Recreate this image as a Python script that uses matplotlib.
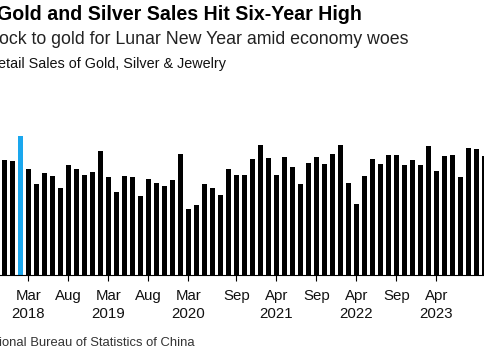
import matplotlib
matplotlib.use("Agg")
import matplotlib.pyplot as plt

plt.rcParams['font.family'] = ['Liberation Sans', 'DejaVu Sans']

# Bar heights (relative units), one per monthly period
values = [115, 114, 139, 106.3, 91, 101.7, 99, 87.3, 109.7, 106,
          100, 103, 124, 98, 83.3, 99, 98, 79, 95.7, 92,
          89.3, 95.3, 120.7, 66, 69.7, 91.3, 87.3, 80.3, 105.7, 99.7,
          100, 116.3, 130, 116.7, 100, 118, 108, 91.3, 112.3, 118,
          111.3, 121.3, 130, 92, 71.3, 99, 115.7, 111, 120.3, 120,
          110.3, 115.3, 110.3, 129.3, 103.7, 119.3, 120.3, 98.3, 127.3, 125.7,
          119]
highlight_index = 2
tick_index = [3, 8, 13, 18, 23, 29, 34, 39, 44, 49, 54]
tick_labels = ["Mar\n2018", "Aug", "Mar\n2019", "Aug", "Mar\n2020", "Sep",
               "Apr\n2021", "Sep", "Apr\n2022", "Sep", "Apr\n2023"]

W, H = 485, 350
fig = plt.figure(figsize=(W / 100, H / 100), dpi=100)
ax = fig.add_axes([0, 75 / H, 1, 150 / H])

x = list(range(len(values)))
colors = ['#1AA7EE' if i == highlight_index else '#000000' for i in x]
ax.bar(x, values, width=0.667, color=colors, linewidth=0)
ax.set_xlim(-0.54, 60.08)
ax.set_ylim(0, 150)

for s in ['left', 'right', 'top']:
    ax.spines[s].set_visible(False)
ax.spines['bottom'].set_linewidth(0.8)
ax.spines['bottom'].set_color('#000000')
ax.set_yticks([])
ax.set_xticks(tick_index)
ax.set_xticklabels(tick_labels, fontsize=10.8, color='#111111', linespacing=1.35)
ax.tick_params(axis='x', length=4, width=0.8, pad=6, color='#000000')

# partially visible label on the left edge
ax.text(-2, -15, "Aug", ha='center', va='top', fontsize=10.8, color='#111111',
        clip_on=False)

fig.text(-0.006, 1 - 14 / H, "Gold and Silver Sales Hit Six-Year High",
         fontsize=14.1, fontweight='bold', color='#000000', va='center', ha='left')
fig.text(-0.002, 1 - 40 / H, "ock to gold for Lunar New Year amid economy woes",
         fontsize=12.8, color='#222222', va='center', ha='left')
fig.text(-0.004, 1 - 64 / H, "etail Sales of Gold, Silver & Jewelry",
         fontsize=10.4, color='#111111', va='center', ha='left')
fig.text(-0.002, 1 - 343 / H, "ional Bureau of Statistics of China",
         fontsize=9.35, color='#333333', va='center', ha='left')

fig.savefig("out.png", dpi=100)
